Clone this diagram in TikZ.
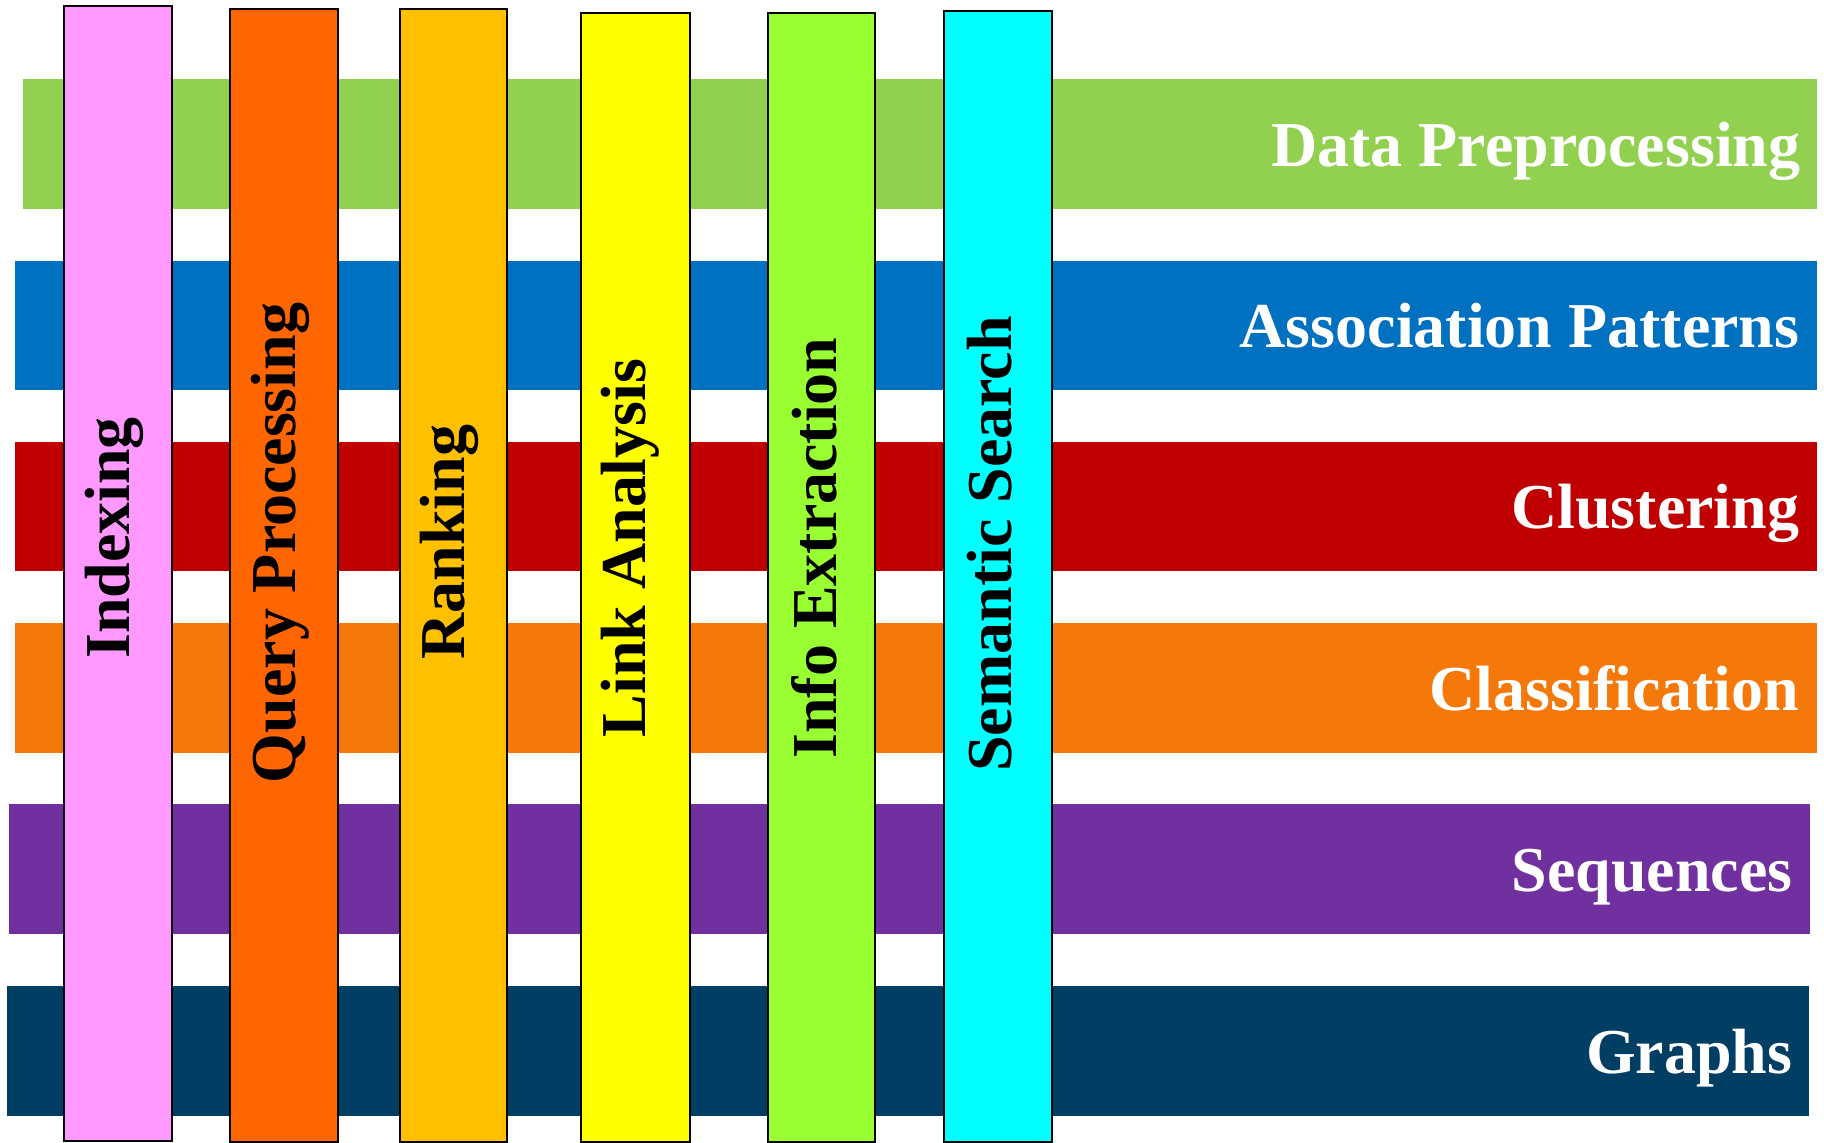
\documentclass[tikz,border=0pt]{standalone}
\usepackage{fontspec}
\setmainfont{Liberation Serif}
\definecolor{prepgreen}{HTML}{92D050}
\definecolor{assocblue}{HTML}{0070C0}
\definecolor{clustred}{HTML}{C00000}
\definecolor{classorange}{HTML}{F4780A}
\definecolor{seqpurple}{HTML}{7030A0}
\definecolor{graphnavy}{HTML}{003E64}
\definecolor{idxpink}{HTML}{FF99FF}
\definecolor{queryorange}{HTML}{FF6600}
\definecolor{rankamber}{HTML}{FFC000}
\definecolor{linkyellow}{HTML}{FFFF00}
\definecolor{infolime}{HTML}{99FF33}
\definecolor{semcyan}{HTML}{00FFFF}
\begin{document}
\begin{tikzpicture}[
		colbar/.style={draw=black, line width=0.6pt},
		rowlabel/.style={anchor=base east, text=white, inner sep=0pt, font=\fontsize{18.2}{20}\selectfont\bfseries},
		collabel/.style={rotate=90, inner sep=0pt, font=\fontsize{18.2}{20}\selectfont\bfseries}
	]
			\useasboundingbox (0, 0) rectangle (18.24, 11.43);
			
			% rows
			\fill[prepgreen] (0.23, 9.34) rectangle (18.17, 10.64);
			\fill[assocblue] (0.15, 7.53) rectangle (18.17, 8.82);
			\fill[clustred] (0.15, 5.72) rectangle (18.17, 7.01);
			\fill[classorange] (0.15, 3.90) rectangle (18.17, 5.20);
			\fill[seqpurple] (0.09, 2.09) rectangle (18.10, 3.39);
			\fill[graphnavy] (0.07, 0.27) rectangle (18.09, 1.57);
			
			% columns
			\filldraw[colbar, fill=idxpink] (0.64, 0.02) rectangle (1.72, 11.37);
			\filldraw[colbar, fill=queryorange] (2.30, 0.01) rectangle (3.38, 11.34);
			\filldraw[colbar, fill=rankamber] (4.00, 0.01) rectangle (5.07, 11.34);
			\filldraw[colbar, fill=linkyellow] (5.81, 0.01) rectangle (6.90, 11.30);
			\filldraw[colbar, fill=infolime] (7.68, 0.01) rectangle (8.75, 11.30);
			\filldraw[colbar, fill=semcyan] (9.44, 0.01) rectangle (10.52, 11.32);
			
			\node[rowlabel] (prep) at (18.01, 9.76) {Data Preprocessing};
			\node[rowlabel] (assoc) at (18.00, 7.95) {Association Patterns};
			\node[rowlabel] (clust) at (18.00, 6.14) {Clustering};
			\node[rowlabel] (class) at (18.00, 4.32) {Classification};
			\node[rowlabel] (seq) at (17.93, 2.51) {Sequences};
			\node[rowlabel] (graphs) at (17.93, 0.69) {Graphs};
			
			\node[collabel] (index) at (1.145, 6.05) {Indexing};
			\node[collabel] (query) at (2.805, 6.00) {Query Processing};
			\node[collabel] (rank) at (4.495, 6.01) {Ranking};
			\node[collabel] (link) at (6.305, 5.95) {Link Analysis};
			\node[collabel] (info) at (8.145, 5.95) {Info Extraction};
			\node[collabel] (sem) at (9.90, 5.99) {Semantic Search};
		\end{tikzpicture}
\end{document}
